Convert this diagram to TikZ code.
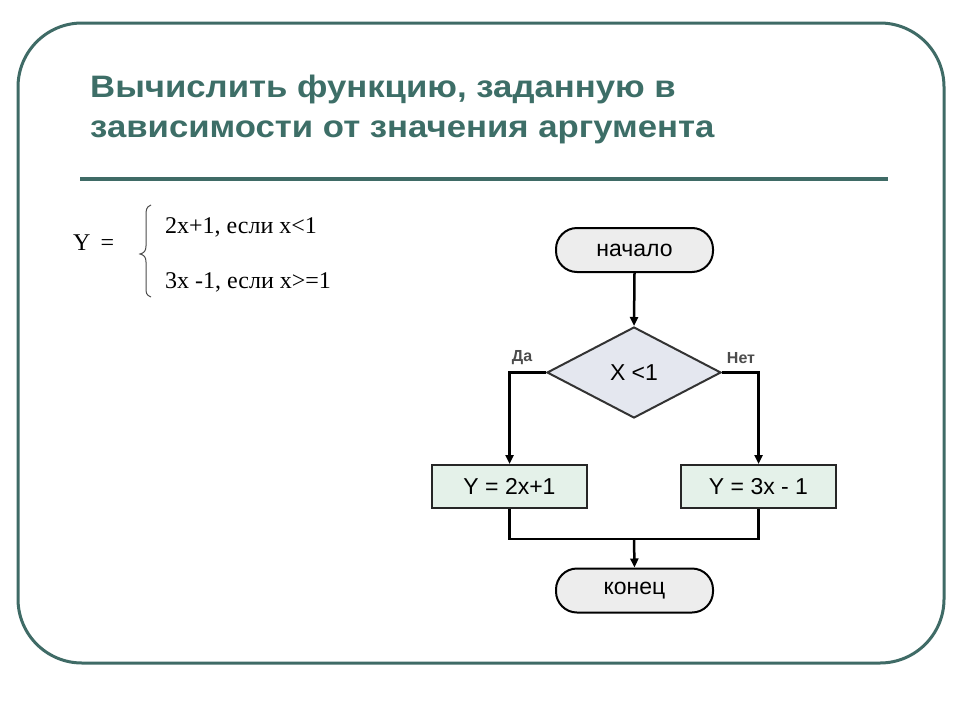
\documentclass[tikz,border=0pt]{standalone}
\usepackage{fontspec}
\setmainfont{Liberation Sans}
\newfontfamily\titlefont[FakeStretch=1.12]{Liberation Sans}
\newfontfamily\formfont{Liberation Serif}
\usetikzlibrary{shapes.geometric,arrows.meta}
\definecolor{frame}{HTML}{3F6B66}
\definecolor{titlec}{HTML}{3D6E67}
\definecolor{pillfill}{HTML}{EDEDED}
\definecolor{diafill}{HTML}{E4E7EF}
\definecolor{boxfill}{HTML}{E4F1E9}
\begin{document}
\begin{tikzpicture}[x=1pt,y=-1pt,
  pill/.style={draw=black,line width=2pt,fill=pillfill,rounded corners=21pt,minimum width=157pt,minimum height=44pt,font=\fontsize{23}{26}\selectfont,inner sep=0pt},
  procbox/.style={draw=black!85,line width=2pt,fill=boxfill,minimum width=155pt,minimum height=43pt,font=\fontsize{23}{26}\selectfont,inner sep=0pt},
  decision/.style={diamond,draw=black!80,line width=2pt,fill=diafill,minimum width=174pt,minimum height=91pt,inner sep=0pt,font=\fontsize{23}{26}\selectfont},
  conn/.style={line width=2.5pt,black},
  arr/.style={conn,-{Triangle[length=9pt,width=8pt]}},
  lbl/.style={font=\bfseries\fontsize{16}{18}\selectfont,text=black!70,inner sep=0pt},
  form/.style={font=\formfont\fontsize{24}{26}\selectfont,anchor=base west,inner sep=0pt},
  ttl/.style={anchor=base west,inner sep=0pt,text=titlec,font=\titlefont\bfseries\fontsize{31}{33}\selectfont}
]
\useasboundingbox (0,0) rectangle (960,720);
\fill[white] (0,0) rectangle (960,720);
\draw[frame,line width=3pt,rounded corners=64pt] (18,23) rectangle (944,663);
\node[ttl] (t1) at (90,97) {Вычислить функцию, заданную в};
\node[ttl] (t2) at (90,137) {зависимости от значения аргумента};
\draw[frame,line width=4pt] (80,179) -- (888,179);
% formula
\node[form] (y) at (73,250) {Y \,=};
\draw[black!70,line width=1pt] (151,205) .. controls (146,207) and (146,210) .. (146,216) -- (146,246) .. controls (146,251) and (144,253) .. (140,254) .. controls (144,255) and (146,257) .. (146,262) -- (146,287) .. controls (146,293) and (146,295) .. (151,297);
\node[form] (f1) at (165,233) {2x+1, если x<1};
\node[form] (f2) at (165,288) {3x -1, если x>=1};
% flowchart
\node[pill] (start) at (634.5,250) {начало};
\node[decision] (dec) at (634,372.5) {X <1};
\node[procbox] (b1) at (509.5,486.5) {Y = 2x+1};
\node[procbox] (b2) at (758.5,486.5) {Y = 3x - 1};
\node[pill] (stop) at (634.5,590.5) {конец};
\coordinate (m) at (634,539);
\draw[arr] (start.south) -- (dec.north);
\draw[arr] (dec.west) -| (b1.north);
\draw[arr] (dec.east) -| (b2.north);
\draw[conn] (b1.south) |- (m);
\draw[conn] (b2.south) |- (m);
\draw[arr] (m) -- (stop.north);
\node[lbl] (da) at (522,358) {Да};
\node[lbl] (net) at (741,358) {Нет};
\end{tikzpicture}
\end{document}
